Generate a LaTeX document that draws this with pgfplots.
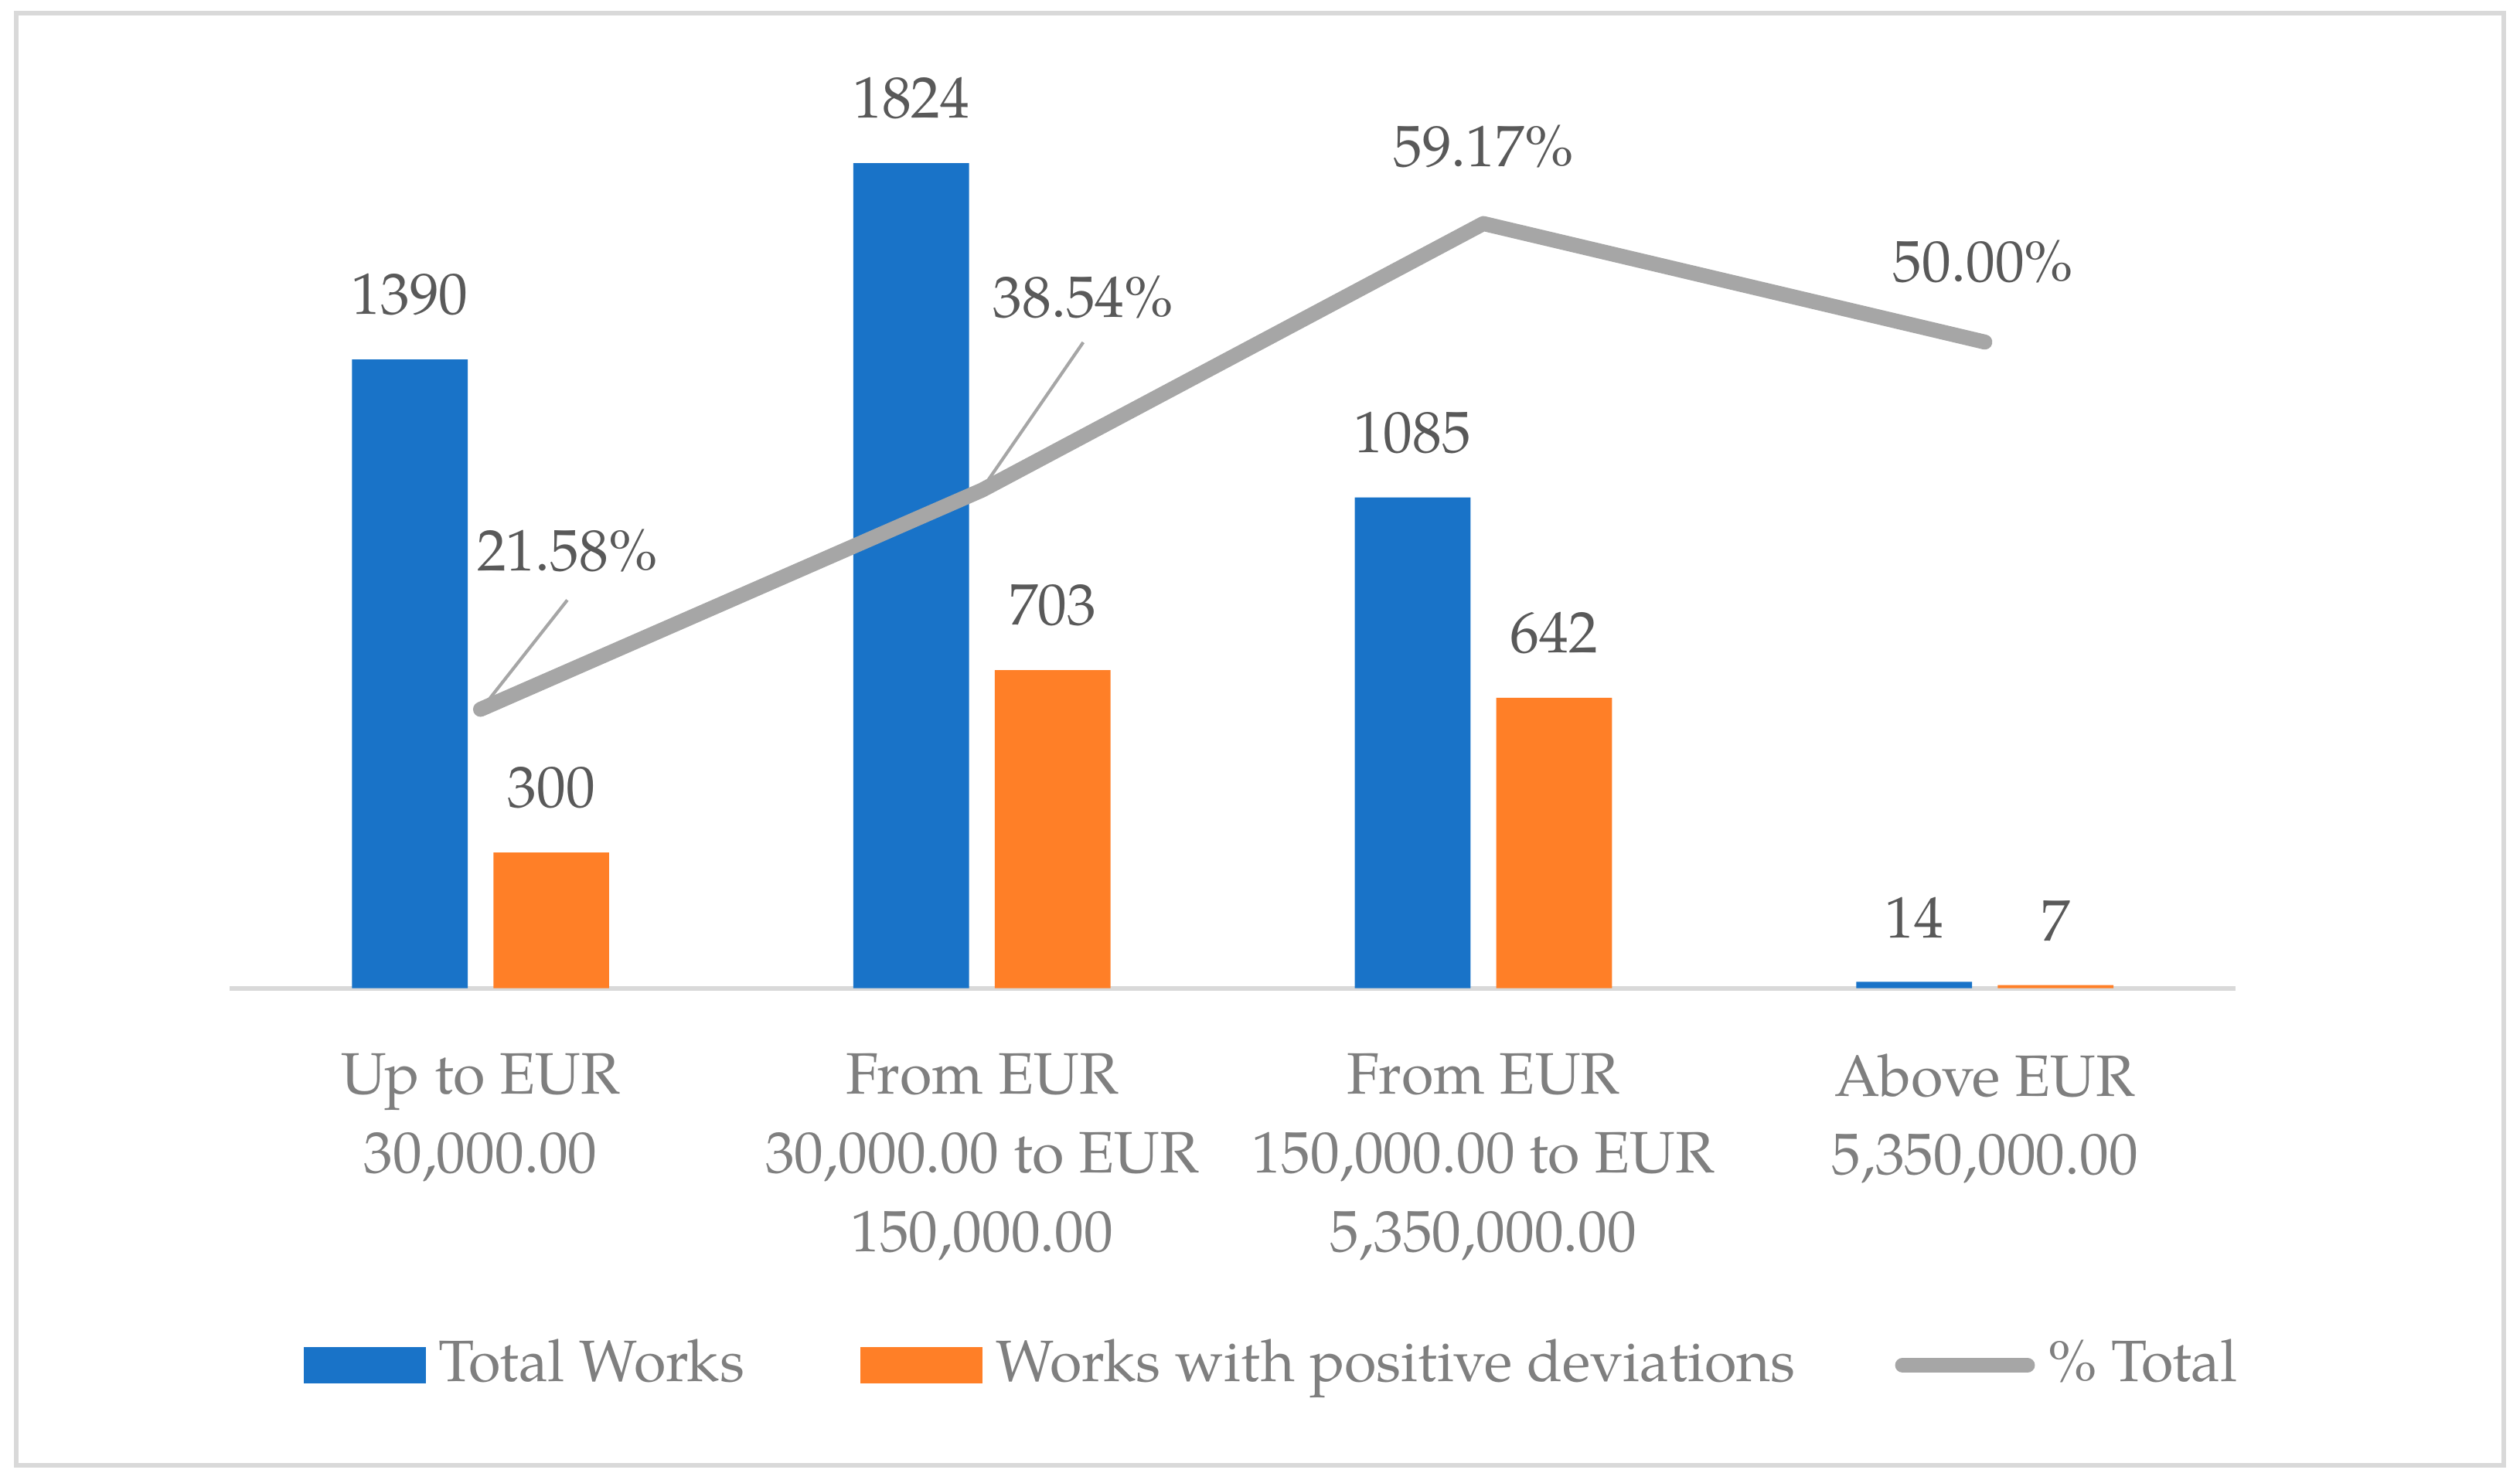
\documentclass[border=0pt]{standalone}
\usepackage{fontspec}
\IfFontExistsTF{TeX Gyre Pagella}{\setmainfont{TeX Gyre Pagella}}{\setmainfont{Liberation Serif}}
\usepackage{pgfplots}
\pgfplotsset{compat=1.18}
\definecolor{barblue}{HTML}{1973C8}
\definecolor{barorange}{HTML}{FF7F27}
\definecolor{linegray}{HTML}{A6A6A6}
\definecolor{framegray}{HTML}{D9D9D9}
\definecolor{tickgray}{HTML}{7F7F7F}
\definecolor{labelgray}{HTML}{595959}
\newcommand{\chartfont}{\fontsize{10.9}{14.7}\selectfont}
\begin{document}
\begin{tikzpicture}
\useasboundingbox (-42.9pt,-91.8pt) rectangle (427.5pt,184.5pt);
\draw[framegray, line width=0.9pt] (-39.9pt,-89.1pt) rectangle (424.5pt,182.1pt);
\begin{axis}[
  at={(0pt,0pt)}, anchor=south west,
  scale only axis, width=374.4pt, height=168.9pt,
  xmin=-0.5, xmax=3.5, ymin=0, ymax=2000,
  axis y line=none, axis x line=bottom,
  x axis line style={draw=framegray, line width=0.9pt, -},
  xtick={0,1,2,3},
  xticklabels={{Up to EUR\\30,000.00},{From EUR\\30,000.00 to EUR\\150,000.00},{From EUR\\150,000.00 to EUR\\5,350,000.00},{Above EUR\\5,350,000.00}},
  major tick length=0pt, xtick style={draw=none},
  xticklabel style={font=\chartfont, text=tickgray, align=center, inner sep=0pt, anchor=north, yshift=-12pt},
  nodes near coords={\pgfmathprintnumber[fixed,precision=0,1000 sep={},assume math mode=true]{\pgfplotspointmeta}},
  nodes near coords style={font=\chartfont, text=labelgray, anchor=south, inner sep=0pt, yshift=8pt},
  clip=false,
  legend columns=3,
  legend cell align=left,
  legend style={at={(0.0369,-0.388)}, anchor=north west, draw=none, fill=none,
    inner sep=0pt, outer sep=0pt, font=\chartfont, text=tickgray,
    nodes={inner sep=0pt},
    /tikz/every odd column/.style={column sep=2.4pt},
    /tikz/column 2/.style={column sep=21.6pt},
    /tikz/column 4/.style={column sep=18.6pt},
    /tikz/column 5/.style={column sep=1.5pt}},
]
\addplot[ybar, bar width=21.6pt, bar shift=-13.2pt, fill=barblue, draw=none,
  every node near coord/.append style={xshift=-13.2pt},
  legend image code/.code={\fill[barblue] (0pt,-3.6pt) rectangle (22.8pt,3.3pt);}]
  coordinates {(0,1390) (1,1824) (2,1085) (3,14)};
\addlegendentry{Total Works}
\addplot[ybar, bar width=21.6pt, bar shift=13.2pt, fill=barorange, draw=none,
  every node near coord/.append style={xshift=13.2pt},
  legend image code/.code={\fill[barorange] (0pt,-3.6pt) rectangle (22.8pt,3.3pt);}]
  coordinates {(0,300) (1,703) (2,642) (3,7)};
\addlegendentry{Works with positive deviations}
\addlegendimage{legend image code/.code={\path (0pt,0pt) (25pt,0pt); \draw[linegray, line width=2.8pt, line cap=round] (0.6pt,-0.15pt) -- (23.9pt,-0.15pt);}}
\addlegendentry{\% Total}
\end{axis}
\begin{axis}[
  at={(0pt,0pt)}, anchor=south west,
  scale only axis, width=374.4pt, height=168.9pt,
  xmin=-0.5, xmax=3.5, ymin=0, ymax=70,
  axis lines=none, clip=false,
]
\addplot[linegray, line width=2.8pt, line cap=round, line join=round]
  coordinates {(0,21.58) (1,38.54) (2,59.17) (3,50.00)};
\draw[linegray, line width=0.6pt] ([xshift=16.2pt,yshift=20.4pt]axis cs:0,21.58) -- ([xshift=0.6pt,yshift=0.6pt]axis cs:0,21.58);
\draw[linegray, line width=0.6pt] ([xshift=18.9pt,yshift=27.6pt]axis cs:1,38.54) -- ([xshift=0.9pt,yshift=1.5pt]axis cs:1,38.54);
\node[font=\chartfont, text=labelgray, inner sep=0pt] at ([xshift=16.2pt,yshift=29.7pt]axis cs:0,21.58) {21.58\%};
\node[font=\chartfont, text=labelgray, inner sep=0pt] at ([xshift=18.9pt,yshift=36pt]axis cs:1,38.54) {38.54\%};
\node[font=\chartfont, text=labelgray, inner sep=0pt] at ([xshift=0pt,yshift=14.4pt]axis cs:2,59.17) {59.17\%};
\node[font=\chartfont, text=labelgray, inner sep=0pt] at ([xshift=-0.3pt,yshift=15pt]axis cs:3,50.00) {50.00\%};
\end{axis}
\end{tikzpicture}
\end{document}
